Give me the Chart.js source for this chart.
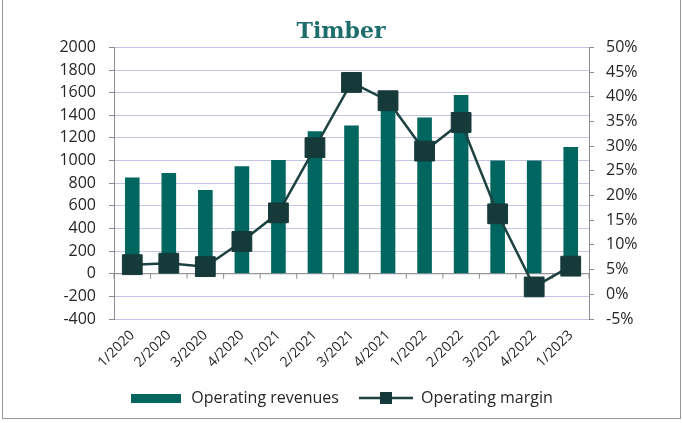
<!DOCTYPE html>
<html>
<head>
<meta charset="utf-8">
<script src="https://cdn.jsdelivr.net/npm/chart.js@4"></script>
<style>
  html, body { margin: 0; padding: 0; background: #fff; }
  #wrap { position: relative; width: 682px; height: 423px; }
  #frame { position: absolute; left: 2px; top: -1px; width: 677px; height: 418px; border: 1px solid #9a9a9a; pointer-events: none; }
</style>
</head>
<body>
<div id="wrap">
  <canvas id="c"></canvas>
  <div id="frame"></div>
</div>
<script>
const quarters = ['1/2020', '2/2020', '3/2020', '4/2020', '1/2021', '2/2021', '3/2021',
  '4/2021', '1/2022', '2/2022', '3/2022', '4/2022', '1/2023']
const revenues = [850, 890, 740, 950, 1005, 1260, 1310, 1550, 1380, 1580, 1000, 1000, 1120]
const margins = [6.0, 6.3, 5.6, 10.7, 16.5, 29.7, 42.9, 39.2, 29.0, 34.8, 16.3, 1.5, 5.7]

const barColor = '#00665f'
const lineColor = '#1d4242'
const markColor = '#163a3a'
const textColor = '#262626'
const font = '"Open Sans", "Liberation Sans", sans-serif'

// legend swatches
const barSwatch = document.createElement('canvas')
barSwatch.width = 50
barSwatch.height = 9
let g = barSwatch.getContext('2d')
g.fillStyle = barColor
g.fillRect(0, 0, 50, 9)

const lineSwatch = document.createElement('canvas')
lineSwatch.width = 54
lineSwatch.height = 14
g = lineSwatch.getContext('2d')
g.strokeStyle = lineColor
g.lineWidth = 2.5
g.beginPath()
g.moveTo(0, 7)
g.lineTo(54, 7)
g.stroke()
g.fillStyle = markColor
g.fillRect(21, 1, 12, 12)

// axis line at zero with category tick marks
const zeroAxis = {
  id: 'zeroAxis',
  beforeDatasetsDraw(chart) {
    const {ctx, scales: {x, y}, chartArea} = chart
    const y0 = y.getPixelForValue(0)
    ctx.save()
    ctx.strokeStyle = '#8c8c8c'
    ctx.lineWidth = 1
    ctx.beginPath()
    ctx.moveTo(chartArea.left, y0)
    ctx.lineTo(chartArea.right, y0)
    const half = (x.getPixelForValue(1) - x.getPixelForValue(0)) / 2
    for (let i = 0; i <= quarters.length; i++) {
      const px = x.getPixelForValue(i) - half
      ctx.moveTo(px, y0)
      ctx.lineTo(px, y0 + 5)
    }
    ctx.stroke()
    ctx.restore()
  }
}

new Chart(document.getElementById('c'), {
  data: {
    labels: quarters,
    datasets: [
      {
        type: 'line',
        label: 'Operating margin',
        data: margins,
        yAxisID: 'y1',
        borderColor: lineColor,
        borderWidth: 2.5,
        backgroundColor: markColor,
        pointStyle: 'rect',
        pointRadius: 14,
        pointBackgroundColor: markColor,
        pointBorderColor: markColor,
        pointBorderWidth: 1,
        order: 0
      },
      {
        type: 'bar',
        label: 'Operating revenues',
        data: revenues,
        yAxisID: 'y',
        backgroundColor: barColor,
        barPercentage: 0.4,
        categoryPercentage: 1,
        order: 1
      }
    ]
  },
  options: {
    responsive: true,
    maintainAspectRatio: false,
    animation: false,
    layout: { padding: { left: 0, right: 0, top: 0, bottom: 7 } },
    plugins: {
      title: {
        display: true,
        text: 'Timber',
        color: '#1c6d6b',
        font: { family: '"DejaVu Serif", "Liberation Serif", serif', size: 22, weight: 'bold' },
        padding: { top: 19, bottom: 2 }
      },
      legend: {
        position: 'bottom',
        labels: {
          usePointStyle: true,
          pointStyleWidth: 54,
          generateLabels(chart) {
            return [
              { text: 'Operating revenues', pointStyle: barSwatch, datasetIndex: 1, fontColor: textColor, lineWidth: 0 },
              { text: 'Operating margin', pointStyle: lineSwatch, datasetIndex: 0, fontColor: textColor, lineWidth: 0 }
            ]
          },
          color: textColor,
          font: { family: font, size: 16 },
          padding: 20
        }
      },
      tooltip: { enabled: false }
    },
    scales: {
      x: {
        grid: { display: false },
        border: { display: false },
        ticks: {
          color: textColor,
          font: { family: font, size: 14 },
          minRotation: 45,
          maxRotation: 45,
          padding: 0
        },
        afterFit(s) { s.height = 51 }
      },
      y: {
        position: 'left',
        min: -400,
        max: 2000,
        ticks: { stepSize: 200, color: textColor, font: { family: font, size: 16 }, padding: 13, callback: v => String(v) },
        grid: {
          color: '#c4c4e4',
          tickColor: '#8c8c8c',
          tickLength: 5,
          drawTicks: true
        },
        border: { display: true, color: '#8c8c8c' },
        afterFit(s) { s.width = 114 }
      },
      y1: {
        position: 'right',
        min: -5,
        max: 50,
        ticks: {
          stepSize: 5,
          color: textColor,
          font: { family: font, size: 16 },
          padding: 12,
          callback: v => v + '%'
        },
        grid: { drawOnChartArea: false, tickColor: '#8c8c8c', tickLength: 5 },
        border: { display: true, color: '#8c8c8c' },
        afterFit(s) { s.width = 93 }
      }
    }
  },
  plugins: [zeroAxis]
})
</script>
</body>
</html>
